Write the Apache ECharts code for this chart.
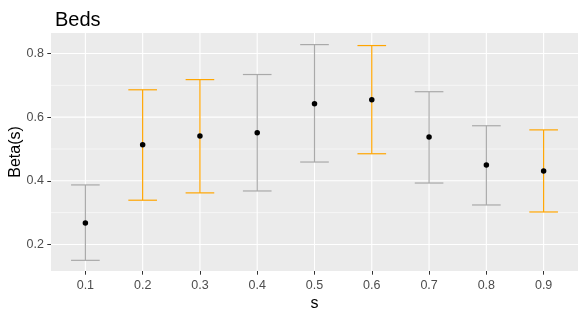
<!DOCTYPE html>
<html><head><meta charset="utf-8">
<script src="https://cdn.jsdelivr.net/npm/echarts@6/dist/echarts.min.js"></script>
<style>html,body{margin:0;padding:0;background:#fff}#c{width:586px;height:319px}</style>
</head><body><div id="c"></div>
<script>
// ---- data ----
const categories = ['0.1','0.2','0.3','0.4','0.5','0.6','0.7','0.8','0.9'];
const estimate = [0.267, 0.513, 0.541, 0.551, 0.642, 0.655, 0.538, 0.450, 0.431];
const lower    = [0.150, 0.339, 0.362, 0.368, 0.459, 0.485, 0.393, 0.324, 0.302];
const upper    = [0.387, 0.686, 0.718, 0.734, 0.828, 0.825, 0.680, 0.573, 0.560];
const highlighted = [false, true, true, false, false, true, false, false, true];
const yTicks = [0.2, 0.4, 0.6, 0.8];
const yMinor = [0.3, 0.5, 0.7];

// ---- chart ----
const FONT = 'Liberation Sans, Arial, sans-serif';
const xPos = categories.map((c, i) => i + 1);
const chart = echarts.init(document.getElementById('c'), null, {renderer: 'canvas'});

// grid line items: [orientation (0 = horizontal, 1 = vertical), value, major flag]
const gridItems = []
  .concat(yMinor.map(v => [0, v, 0]))
  .concat(yTicks.map(v => [0, v, 1]))
  .concat(xPos.map(v => [1, v, 1]));

const option = {
  animation: false,
  backgroundColor: '#ffffff',
  title: {
    text: 'Beds', left: 50, top: 5,
    textStyle: {fontFamily: FONT, fontSize: 20, fontWeight: 'normal', color: '#000000'}
  },
  grid: {
    left: 51, right: 8, top: 33, bottom: 48,
    show: true, backgroundColor: '#EBEBEB', borderWidth: 0,
    containLabel: false, outerBoundsMode: 'none'
  },
  xAxis: {
    type: 'value', min: 0.4, max: 9.6,
    name: 's', nameLocation: 'middle', nameGap: 25, nameMoveOverlap: false,
    nameTextStyle: {fontFamily: FONT, fontSize: 16, color: '#000000'},
    axisLine: {show: false},
    axisTick: {show: true, length: 3.7, customValues: xPos, lineStyle: {color: '#333333', width: 1}},
    axisLabel: {
      customValues: xPos, margin: 8,
      formatter: v => categories[Math.round(v) - 1],
      fontFamily: FONT, fontSize: 12.5, color: '#4D4D4D'
    },
    splitLine: {show: false}
  },
  yAxis: {
    type: 'value', min: 0.1165, max: 0.8645,
    name: 'Beta(s)', nameLocation: 'middle', nameGap: 27, nameRotate: 90, nameMoveOverlap: false,
    nameTextStyle: {fontFamily: FONT, fontSize: 16, color: '#000000'},
    axisLine: {show: false},
    axisTick: {show: true, length: 3.7, customValues: yTicks, lineStyle: {color: '#333333', width: 1}},
    axisLabel: {
      customValues: yTicks, margin: 7,
      formatter: v => Number(v).toFixed(1),
      fontFamily: FONT, fontSize: 12.5, color: '#4D4D4D'
    },
    splitLine: {show: false}
  },
  series: [
    {
      type: 'custom', z: 1, silent: true, clip: true,
      data: gridItems,
      renderItem(params, api) {
        const cs = params.coordSys;
        const w = api.value(2) ? 1.1 : 0.55;
        let shape;
        if (api.value(0) === 0) {
          const y = api.coord([1, api.value(1)])[1];
          shape = {x1: cs.x, y1: y, x2: cs.x + cs.width, y2: y};
        } else {
          const x = api.coord([api.value(1), 0.5])[0];
          shape = {x1: x, y1: cs.y, x2: x, y2: cs.y + cs.height};
        }
        return {type: 'line', shape, style: {stroke: '#ffffff', lineWidth: w}};
      }
    },
    {
      type: 'custom', z: 2, silent: true,
      data: xPos.map((x, i) => [x, lower[i], upper[i], highlighted[i] ? 1 : 0]),
      renderItem(params, api) {
        const x = api.value(0), lo = api.value(1), hi = api.value(2);
        const top = api.coord([x, hi]), bot = api.coord([x, lo]);
        const l = api.coord([x - 0.25, hi])[0], r = api.coord([x + 0.25, hi])[0];
        const color = api.value(3) ? '#FFA500' : '#A9A9A9';
        const st = {stroke: color, lineWidth: 1.2};
        return {type: 'group', children: [
          {type: 'line', shape: {x1: top[0], y1: top[1], x2: bot[0], y2: bot[1]}, style: st},
          {type: 'line', shape: {x1: l, y1: top[1], x2: r, y2: top[1]}, style: st},
          {type: 'line', shape: {x1: l, y1: bot[1], x2: r, y2: bot[1]}, style: st}
        ]};
      }
    },
    {
      type: 'scatter', z: 3, silent: true,
      data: xPos.map((x, i) => [x, estimate[i]]),
      symbol: 'circle', symbolSize: 5.5,
      itemStyle: {color: '#000000', opacity: 1}
    }
  ]
};
chart.setOption(option);
</script>
</body></html>
